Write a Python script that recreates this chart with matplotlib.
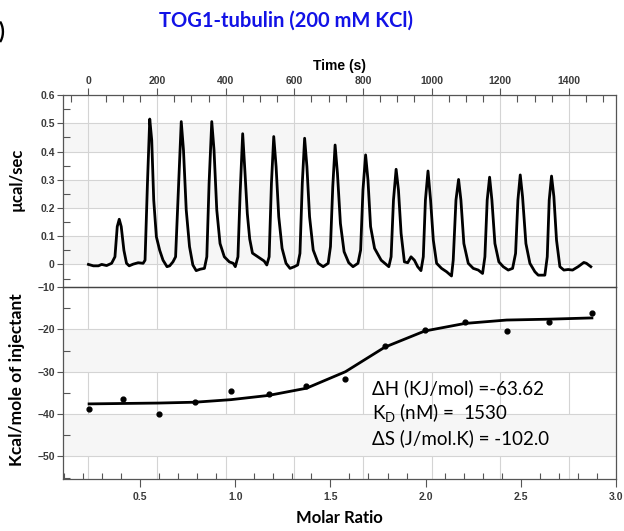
import numpy as np
import matplotlib
matplotlib.use("Agg")
import matplotlib.pyplot as plt
from matplotlib.ticker import MultipleLocator

# raw thermogram (time in s, power in ucal/sec)
TIME_S = [
    0, 14.5, 29, 38.6, 53, 67.6, 77.3, 84, 89.8, 95.6, 103.4, 111, 118.8, 130.4,
    145, 159.4, 165, 172, 178.7, 184.5, 190.3, 198, 207.7, 217.4, 229, 236.7,
    246.3, 254, 262.8, 270.5, 277, 285, 294.6, 304.3, 314, 325.5, 338, 345,
    351.6, 359.4, 366, 374, 383.5, 396, 410.6, 422, 428, 435.7, 442, 449.5,
    456, 463, 470, 478, 490, 500.5, 512, 519.8, 526.6, 533.3, 540, 546.9,
    554.6, 564.3, 575.8, 587.4, 600, 609.7, 616.4, 623.2, 630, 636.7, 644.4,
    655, 669.6, 684, 698.6, 705.3, 712, 718.8, 725.6, 734.3, 745, 758.5, 771,
    785.5, 793.2, 800, 807.7, 814.5, 822.2, 833.8, 853, 875.3, 882, 888.9,
    896.6, 903.4, 911.1, 920.7, 930.4, 940, 949.8, 959.4, 969, 975.8, 982,
    989.5, 997, 1005, 1014.6, 1029, 1043.7, 1058, 1063, 1071, 1078.6, 1085.4,
    1094, 1106.8, 1121.4, 1136, 1148.5, 1155.3, 1162, 1169, 1175.7, 1184.5,
    1196, 1208.7, 1223.3, 1236, 1244.7, 1251.5, 1258.3, 1265, 1274.8, 1286.4,
    1301, 1310.7, 1330, 1337, 1342.7, 1349.5, 1356.3, 1364, 1373.8, 1385.4,
    1398, 1410.7, 1427, 1443.6, 1451, 1464,
]
POWER = [
    0, -0.005, -0.005, 0, -0.004, 0.004, 0.027, 0.134, 0.16, 0.134, 0.05,
    0.004, -0.005, 0.001, 0.006, 0.004, 0.015, 0.287, 0.515, 0.44, 0.228,
    0.098, 0.05, 0.015, -0.008, -0.005, 0.009, 0.027, 0.287, 0.506, 0.405,
    0.193, 0.063, -0.002, -0.022, -0.017, -0.014, 0.027, 0.287, 0.506, 0.405,
    0.193, 0.074, 0.027, 0.009, 0.004, -0.008, 0.027, 0.25, 0.463, 0.33, 0.18,
    0.09, 0.04, 0.03, 0.021, 0.012, -0.002, 0.027, 0.287, 0.453, 0.346, 0.169,
    0.057, 0.004, -0.014, -0.008, -0.002, 0.039, 0.287, 0.447, 0.346, 0.169,
    0.051, 0.004, -0.008, 0.004, 0.063, 0.275, 0.423, 0.323, 0.145, 0.045,
    0.006, -0.008, 0.004, 0.051, 0.264, 0.388, 0.3, 0.134, 0.057, 0.015,
    -0.008, 0.027, 0.228, 0.337, 0.264, 0.11, 0.009, 0.006, 0.027, 0.015,
    -0.008, -0.022, 0.027, 0.228, 0.331, 0.228, 0.086, 0.004, -0.014, -0.026,
    -0.041, 0.015, 0.228, 0.301, 0.228, 0.074, 0.004, -0.014, -0.02, -0.032,
    0.027, 0.228, 0.309, 0.228, 0.074, 0.009, -0.008, -0.02, -0.014, 0.039,
    0.228, 0.317, 0.24, 0.074, 0.004, -0.026, -0.038, -0.038, 0.027, 0.228,
    0.313, 0.24, 0.086, -0.008, -0.02, -0.018, -0.02, -0.008, 0.007, 0.004,
    -0.008,
]

# integrated heats per injection
MOLAR_RATIO = [0.232, 0.412, 0.598, 0.789, 0.977, 1.175, 1.374, 1.579, 1.786,
               1.995, 2.207, 2.426, 2.646, 2.874]
HEAT_KCAL = [-38.8, -36.5, -40.0, -37.2, -34.5, -35.2, -33.3, -31.7, -24.0,
             -20.1, -18.3, -20.4, -18.2, -16.2]
FIT_KCAL = [-37.6, -37.5, -37.4, -37.2, -36.6, -35.6, -33.9, -30.0, -24.2,
            -20.4, -18.6, -17.8, -17.6, -17.3]

TIME_TICKS = [0, 200, 400, 600, 800, 1000, 1200, 1400]
POWER_TICKS = [0, 0.1, 0.2, 0.3, 0.4, 0.5, 0.6]
POWER_TICK_LABELS = ["0", "0.1", "0.2", "0.3", "0.4", "0.5", "0.6"]
HEAT_TICKS = [-50, -40, -30, -20, -10]
RATIO_TICKS = [0.5, 1.0, 1.5, 2.0, 2.5, 3.0]
RATIO_TICK_LABELS = ["0.5", "1.0", "1.5", "2.0", "2.5", "3.0"]

TITLE = "TOG1-tubulin (200 mM KCl)"
FIT_LINES = [
    "ΔH (KJ/mol) =-63.62",
    "K$_{\\mathrm{D}}$ (nM) =  1530",
    "ΔS (J/mol.K) = -102.0",
]

TICK_FONT = dict(family="Liberation Sans", weight="bold", size=7.5, color="#3a3a3a")
LABEL_FONT = ["Lato", "DejaVu Sans"]
GRID_C = "#d4d4d4"
BAND_C = "#f6f6f6"
SPINE_C = "#555555"


def _style_axis(ax):
    for side in ("top", "bottom", "left", "right"):
        ax.spines[side].set_color(SPINE_C)
        ax.spines[side].set_linewidth(0.9)
    ax.tick_params(which="both", colors=SPINE_C, width=0.8)
    for lab in ax.get_xticklabels() + ax.get_yticklabels():
        lab.set_fontproperties(matplotlib.font_manager.FontProperties(
            family=TICK_FONT["family"], weight=TICK_FONT["weight"], size=TICK_FONT["size"]))
        lab.set_color(TICK_FONT["color"])


def _bands(ax, edges):
    # alternate light bands between tick rows
    for lo, hi in zip(edges[0::2], edges[1::2]):
        ax.axhspan(lo, hi, color=BAND_C, zorder=0, lw=0)


def main():
    plt.rcParams["mathtext.fontset"] = "custom"
    plt.rcParams["mathtext.rm"] = "Lato"

    fig = plt.figure(figsize=(6.24, 5.31), dpi=100)
    ax1 = fig.add_axes([0.101, 0.4595, 0.886, 0.3615])
    ax2 = fig.add_axes([0.101, 0.0974, 0.886, 0.3621])

    # --- raw power trace ---
    ax1.plot(TIME_S, POWER, color="black", lw=2.0, zorder=3)
    ax1.set_xlim(-74, 1537)
    ax1.set_ylim(-0.08, 0.6)
    _bands(ax1, [0, 0.1, 0.2, 0.3, 0.4, 0.5])
    ax1.xaxis.tick_top()
    ax1.xaxis.set_label_position("top")
    ax1.set_xticks(TIME_TICKS)
    ax1.xaxis.set_minor_locator(MultipleLocator(50))
    ax1.set_yticks(POWER_TICKS)
    ax1.set_yticklabels(POWER_TICK_LABELS)
    ax1.yaxis.set_minor_locator(MultipleLocator(0.05))
    ax1.tick_params(axis="x", which="major", direction="out", length=5, pad=1.5)
    ax1.tick_params(axis="x", which="minor", direction="in", length=5)
    ax1.tick_params(axis="y", which="major", direction="out", length=4, pad=2)
    ax1.tick_params(axis="y", which="minor", direction="in", length=5)
    ax1.grid(True, which="major", color=GRID_C, lw=0.8, zorder=1)
    ax1.set_axisbelow(True)
    ax1.set_xlabel("Time (s)", fontsize=10, fontweight="bold",
                   family="Liberation Sans", labelpad=4.5)
    ax1.set_ylabel("µcal/sec", fontsize=12, fontweight="bold", family=LABEL_FONT)
    ax1.yaxis.set_label_coords(-0.069, 0.56)
    _style_axis(ax1)

    # vertical time grid carried into the lower panel
    axg = ax2.twiny()
    axg.set_xlim(ax1.get_xlim())
    axg.set_xticks(TIME_TICKS)
    axg.tick_params(top=False, labeltop=False)
    axg.grid(True, color=GRID_C, lw=0.8)
    for s in axg.spines.values():
        s.set_visible(False)
    axg.set_zorder(ax2.get_zorder() - 1)
    ax2.patch.set_visible(False)

    # --- integrated heats ---
    _bands(ax2, [-50, -40, -30, -20])
    for y in HEAT_TICKS[:-1]:
        ax2.axhline(y, color=GRID_C, lw=0.8, zorder=1)
    ax2.plot(MOLAR_RATIO, FIT_KCAL, color="black", lw=2.0, zorder=3)
    ax2.scatter(MOLAR_RATIO, HEAT_KCAL, s=12, color="black", zorder=4)
    ax2.set_xlim(0.095, 3.0)
    ax2.set_ylim(-55.4, -10)
    ax2.set_xticks(RATIO_TICKS)
    ax2.set_xticklabels(RATIO_TICK_LABELS)
    ax2.xaxis.set_minor_locator(MultipleLocator(0.1))
    ax2.set_yticks(HEAT_TICKS)
    ax2.yaxis.set_minor_locator(MultipleLocator(5))
    ax2.tick_params(axis="x", which="major", direction="out", length=6, pad=3)
    ax2.tick_params(axis="x", which="minor", direction="in", length=4)
    ax2.tick_params(axis="y", which="major", direction="out", length=4, pad=2)
    ax2.tick_params(axis="y", which="minor", direction="in", length=5)
    ax2.set_xlabel("Molar Ratio", fontsize=12, fontweight="bold", family=LABEL_FONT,
                   labelpad=6)
    ax2.set_ylabel("Kcal/mole of injectant", fontsize=12.5, fontweight="bold",
                   family=LABEL_FONT)
    ax2.yaxis.set_label_coords(-0.069, 0.516)
    _style_axis(ax2)
    ax2.spines["top"].set_color("#444444")

    for i, line in enumerate(FIT_LINES):
        ax2.text(0.558, 0.475 - i * 0.13, line, transform=ax2.transAxes,
                 fontsize=13.5, family=LABEL_FONT, va="center", ha="left", zorder=5)

    fig.text(0.459, 0.962, TITLE, color="#1212e6", fontsize=14.5, fontweight="bold",
             family=LABEL_FONT, ha="center", va="center")
    fig.text(0.008, 0.94, "D)", fontsize=16, fontweight="bold", family=LABEL_FONT,
             ha="right", va="center")

    fig.savefig("out.png", dpi=100)
    plt.close(fig)


if __name__ == "__main__":
    main()
